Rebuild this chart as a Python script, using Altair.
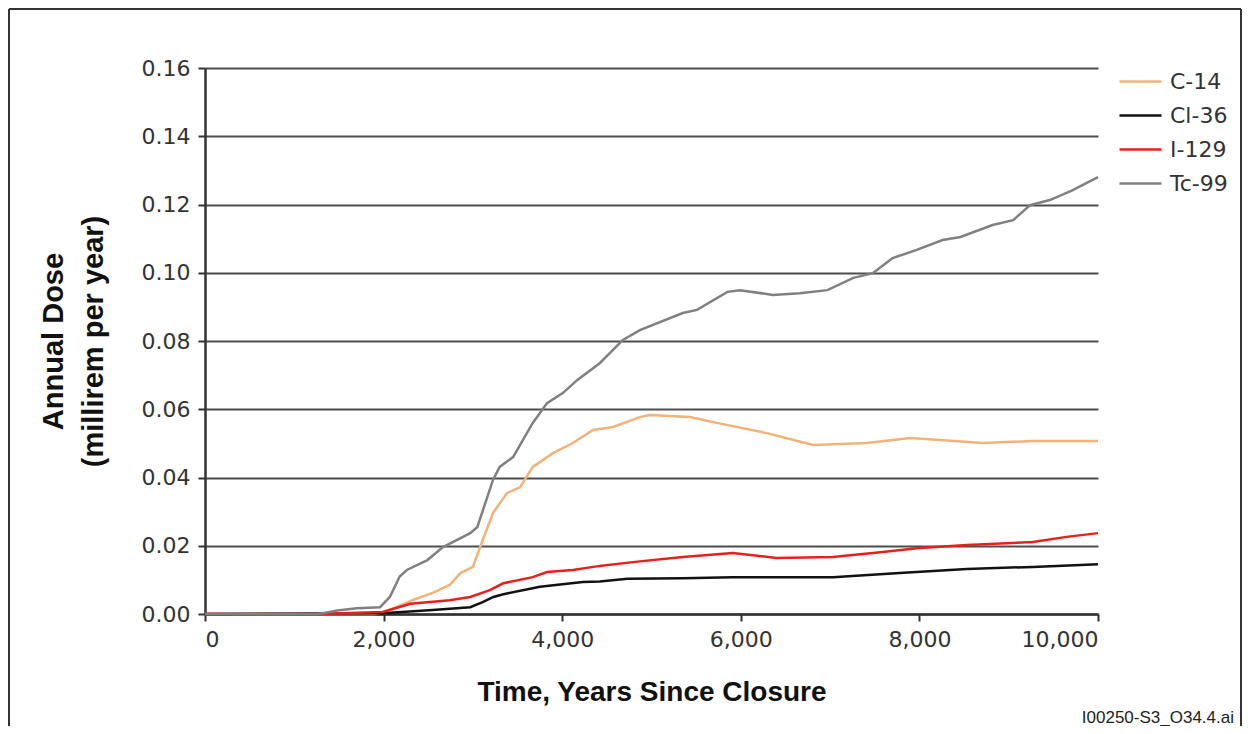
import altair as alt
import pandas as pd

# ---- data ----
tc99_x = [0, 1250, 1320, 1480, 1700, 1960, 2070, 2180, 2260, 2490, 2665, 2970, 3050, 3225, 3300,
          3450, 3670, 3830, 4010, 4170, 4420, 4680, 4870, 5350, 5510, 5850, 5990, 6360, 6660,
          6970, 7260, 7480, 7700, 7970, 8260, 8460, 8820, 9050, 9240, 9460, 9700, 10000]
tc99_y = [0, 0, 0.0002, 0.001, 0.0017, 0.002, 0.005, 0.011, 0.0129, 0.0158, 0.0196, 0.0237, 0.0255,
          0.0393, 0.0431, 0.046, 0.056, 0.0618, 0.0648, 0.0686, 0.0735, 0.0803, 0.0832, 0.0882,
          0.0891, 0.0944, 0.0949, 0.0935, 0.094, 0.0949, 0.0985, 0.0999, 0.1043, 0.1067, 0.1096,
          0.1105, 0.114, 0.1154, 0.1198, 0.1213, 0.124, 0.128]

c14_x = [0, 1900, 2000, 2330, 2550, 2740, 2860, 3000, 3110, 3225, 3380, 3530, 3670, 3900, 4120,
         4345, 4570, 4870, 4980, 5430, 5730, 6290, 6810, 7410, 7900, 8710, 9270, 10000]
c14_y = [0, 0, 0.0005, 0.0041, 0.0062, 0.0085, 0.012, 0.0138, 0.0217, 0.0296, 0.0354, 0.0372,
         0.0431, 0.0472, 0.0501, 0.0539, 0.0548, 0.0577, 0.0583, 0.0577, 0.056, 0.053, 0.0495,
         0.0501, 0.0516, 0.0501, 0.0507, 0.0507]

i129_x = [0, 1250, 1990, 2300, 2740, 2970, 3190, 3340, 3670, 3830, 4120, 4420, 4790, 5350, 5910,
          6400, 7030, 7590, 7970, 8530, 9270, 9650, 10000]
i129_y = [0, 0, 0.0006, 0.003, 0.004, 0.005, 0.007, 0.009, 0.0108, 0.0123, 0.0129, 0.0141, 0.0152,
          0.0167, 0.0179, 0.0164, 0.0167, 0.0182, 0.0193, 0.0202, 0.0211, 0.0226, 0.0237]

cl36_x = [0, 1990, 2550, 2970, 3110, 3230, 3340, 3380, 3750, 4230, 4420, 4730, 5350, 5910, 7030,
          7780, 8530, 9270, 10000]
cl36_y = [0, 0.0002, 0.0012, 0.002, 0.0035, 0.005, 0.0058, 0.006, 0.008, 0.0094, 0.0095, 0.0103,
          0.0105, 0.0108, 0.0108, 0.012, 0.0132, 0.0138, 0.0146]

series_names = ["C-14", "Cl-36", "I-129", "Tc-99"]
series_colors = ["#F2B27A", "#111111", "#E8201C", "#808080"]

x_ticks = [0, 2000, 4000, 6000, 8000, 10000]
y_ticks = [0, 0.02, 0.04, 0.06, 0.08, 0.10, 0.12, 0.14, 0.16]
footnote = "I00250-S3_O34.4.ai"

rows = []
for name, xs, ys in [("C-14", c14_x, c14_y), ("Cl-36", cl36_x, cl36_y),
                     ("I-129", i129_x, i129_y), ("Tc-99", tc99_x, tc99_y)]:
    for i, (a, b) in enumerate(zip(xs, ys)):
        rows.append({"series": name, "year": a, "dose": b, "order": i})
df = pd.DataFrame(rows)

W, H = 893, 546

lines = alt.Chart(df).mark_line(strokeWidth=2.5).encode(
    x=alt.X("year:Q",
            scale=alt.Scale(domain=[0, 10000], nice=False),
            axis=alt.Axis(values=x_ticks, format=",d", grid=False,
                          title="Time, Years Since Closure",
                          titleFont="Liberation Sans", titleFontWeight="bold",
                          titleFontSize=28, titleColor="#111",
                          titleBaseline="alphabetic", titleY=86,
                          labelFont="DejaVu Sans", labelFontSize=22, labelColor="#333",
                          labelPadding=8, tickSize=7, tickWidth=2, tickColor="#333",
                          domainColor="#333", domainWidth=2.5)),
    y=alt.Y("dose:Q",
            scale=alt.Scale(domain=[0, 0.16], nice=False),
            axis=alt.Axis(values=y_ticks, format=".2f", grid=True,
                          gridColor="#4d4d4d", gridWidth=2,
                          title=["Annual Dose", "(millirem per year)"],
                          titleFont="Liberation Sans", titleFontWeight="bold",
                          titleFontSize=29, titleColor="#111",
                          titleAlign="center", titleBaseline="alphabetic",
                          titleLineHeight=40, titleX=-143, titleY=273,
                          labelFont="DejaVu Sans", labelFontSize=22, labelColor="#333",
                          labelPadding=8, tickSize=7, tickWidth=2, tickColor="#333",
                          domainColor="#333", domainWidth=2.5)),
    color=alt.Color("series:N",
                    scale=alt.Scale(domain=series_names, range=series_colors),
                    legend=alt.Legend(title=None, orient="none", legendX=913, legendY=-9,
                                      symbolType="stroke", symbolSize=1764,
                                      symbolStrokeWidth=2.5,
                                      labelFont="DejaVu Sans", labelFontSize=22,
                                      labelColor="#333", labelOffset=7, rowPadding=-4)),
    order="order:Q",
)

frame_data = alt.Data(values=[{"k": 1}])
frame_left = alt.Chart(frame_data).mark_rule(color="#333", strokeWidth=2).encode(
    x=alt.value(-196), y=alt.value(-59), y2=alt.value(658))
frame_top = alt.Chart(frame_data).mark_rule(color="#333", strokeWidth=2).encode(
    x=alt.value(-196), x2=alt.value(1036), y=alt.value(-59))
frame_right = alt.Chart(frame_data).mark_rule(color="#333", strokeWidth=2).encode(
    x=alt.value(1036), y=alt.value(-59), y2=alt.value(658))

note = alt.Chart(frame_data).mark_text(
    align="right", baseline="alphabetic", font="Liberation Sans", fontSize=17, color="#222"
).encode(x=alt.value(1029), y=alt.value(655), text=alt.value(footnote))

chart = alt.layer(frame_left, frame_top, frame_right, lines, note).properties(
    width=W, height=H,
    padding={"left": 197, "top": 60, "right": 145, "bottom": 112},
    autosize=alt.AutoSizeParams(type="none"),
    background="#ffffff",
).configure_view(stroke=None)

chart.save("out.html", embed_options={"renderer": "svg", "actions": False})
